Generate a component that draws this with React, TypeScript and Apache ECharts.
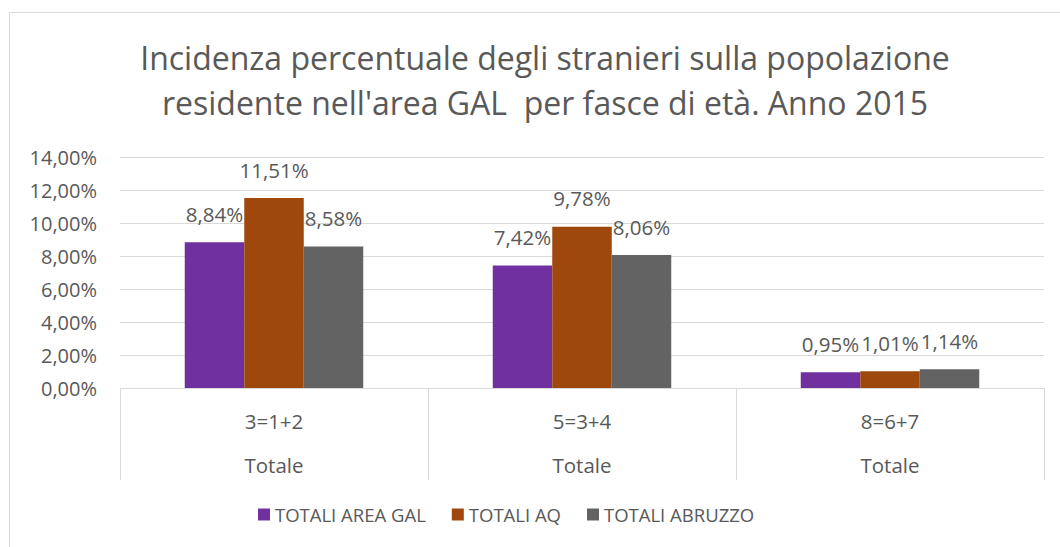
import React, { useEffect, useRef } from "react";
import * as echarts from "echarts";

const categories = ["3=1+2", "5=3+4", "8=6+7"];
const subCategory = "Totale";
const seriesNames = ["TOTALI AREA GAL", "TOTALI AQ", "TOTALI ABRUZZO"];
const areaGal = [8.84, 7.42, 0.95];
const totaliAq = [11.51, 9.78, 1.01];
const totaliAbruzzo = [8.58, 8.06, 1.14];
const colors = ["#7030a0", "#9e480e", "#636363"];
const titleText = "Incidenza percentuale degli stranieri sulla popolazione\nresidente nell'area GAL  per fasce di età. Anno 2015";

const fmt = (v: number) => v.toFixed(2).replace(".", ",") + "%";
const FONT = "Open Sans";
const TXT = "#595959";

export default function App() {
  const ref = useRef<HTMLDivElement>(null);
  useEffect(() => {
    const chart = echarts.init(ref.current!, undefined, { renderer: "svg" });
    const data = [areaGal, totaliAq, totaliAbruzzo];
    chart.setOption({
      animation: false,
      backgroundColor: "#ffffff",
      textStyle: { fontFamily: FONT },
      title: {
        text: titleText,
        left: 540,
        textAlign: "center",
        top: 30,
        textStyle: { fontFamily: FONT, fontSize: 32, fontWeight: "normal", color: TXT, lineHeight: 45 },
      },
      graphic: [
        {
          type: "rect",
          shape: { x: 9.5, y: 12.5, width: 1100, height: 600 },
          style: { fill: "none", stroke: "#d9d9d9", lineWidth: 1 },
          silent: true,
        },
      ],
      legend: {
        bottom: 18,
        left: 253,
        itemWidth: 12,
        itemHeight: 12,
        itemGap: 26,
        icon: "rect",
        textStyle: { fontFamily: FONT, fontSize: 18.5, color: TXT },
        data: seriesNames,
      },
      grid: { left: 120, right: 16, top: 157, bottom: 159, containLabel: false },
      xAxis: {
        type: "category",
        data: categories,
        axisLine: { show: true, lineStyle: { color: "#d9d9d9" } },
        axisTick: { show: true, length: 92, lineStyle: { color: "#d9d9d9" } },
        axisLabel: {
          margin: 11,
          formatter: (v: string) => `{a|${v}}\n{b|${subCategory}}`,
          rich: {
            a: { fontFamily: FONT, fontSize: 20.5, color: TXT, lineHeight: 44 },
            b: { fontFamily: FONT, fontSize: 20.5, color: TXT, lineHeight: 44 },
          },
        },
      },
      yAxis: {
        type: "value",
        min: 0,
        max: 14,
        interval: 2,
        axisLine: { show: false },
        axisTick: { show: false },
        splitLine: { lineStyle: { color: "#d9d9d9" } },
        axisLabel: { fontFamily: FONT, fontSize: 20, color: TXT, margin: 23, formatter: (v: number) => fmt(v) },
      },
      series: seriesNames.map((name, i) => ({
        name,
        type: "bar",
        data: data[i],
        barWidth: 59.5,
        barGap: "0%",
        itemStyle: { color: colors[i] },
        label: {
          show: true,
          position: "top",
          distance: 18,
          fontFamily: FONT,
          fontSize: 20.5,
          color: TXT,
          formatter: (p: any) => fmt(p.value),
        },
      })),
    });
    return () => chart.dispose();
  }, []);
  return <div ref={ref} style={{ position: "fixed", left: 0, top: 0, width: 1060, height: 547 }} />;
}
